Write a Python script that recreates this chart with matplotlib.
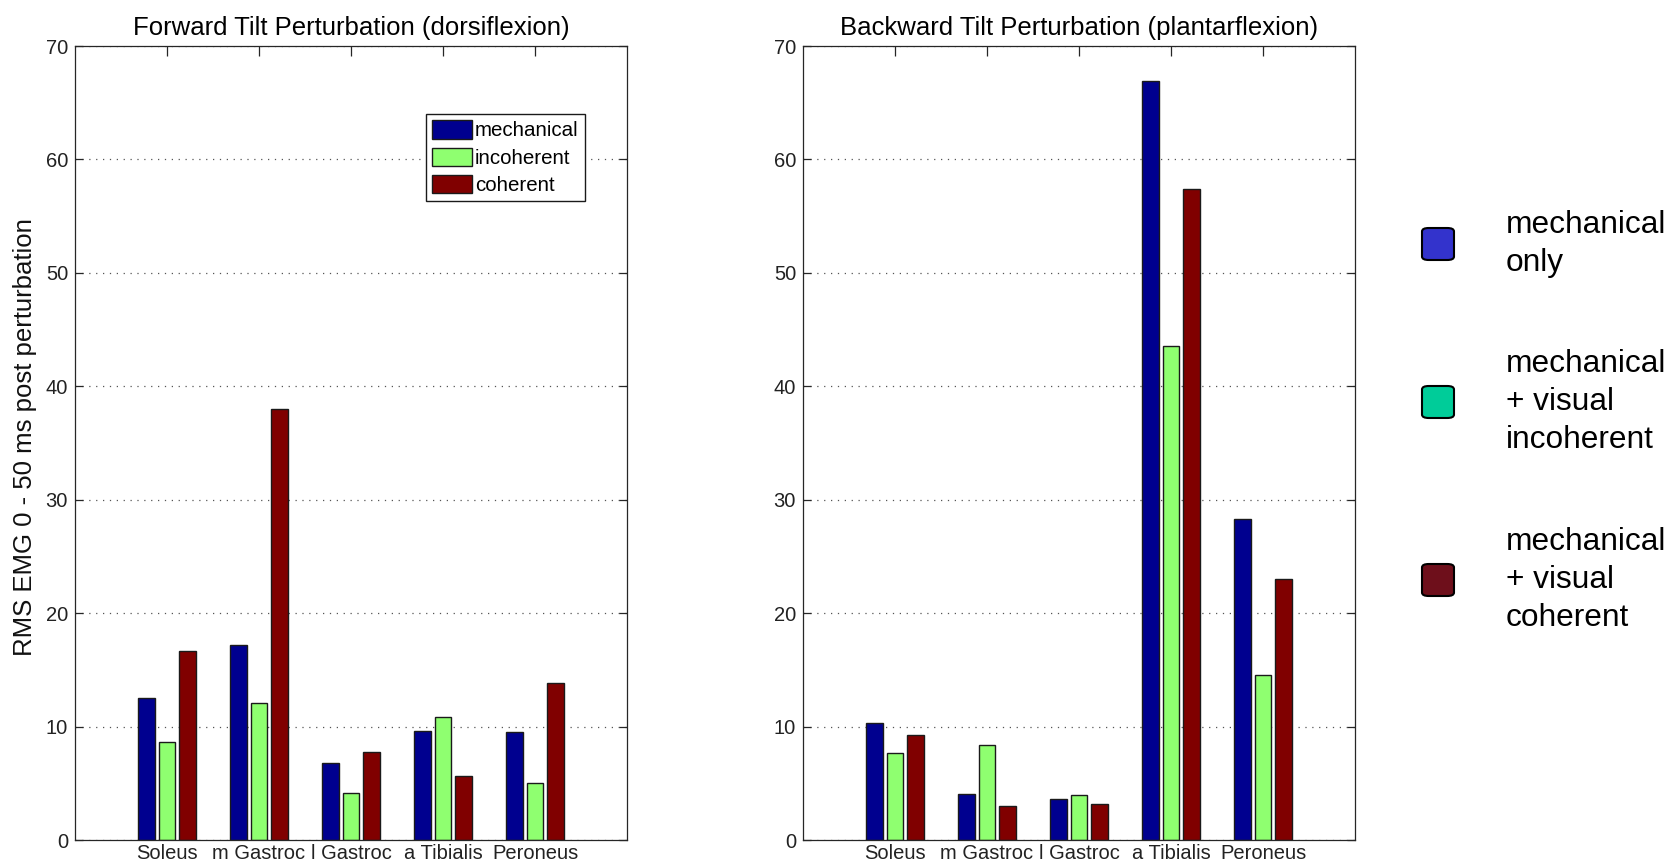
import matplotlib
matplotlib.use("Agg")
import matplotlib.pyplot as plt
import numpy as np
from matplotlib.patches import FancyBboxPatch

plt.rcParams['font.family'] = ['Liberation Sans', 'DejaVu Sans']

# ---- data -------------------------------------------------------------
muscles = ["Soleus", "m Gastroc", "l Gastroc", "a Tibialis", "Peroneus"]
conditions = ["mechanical", "incoherent", "coherent"]

forward_mechanical = [12.55, 17.19, 6.78, 9.65, 9.56]
forward_incoherent = [8.68, 12.11, 4.14, 10.88, 5.02]
forward_coherent = [16.66, 38.03, 7.80, 5.66, 13.87]

backward_mechanical = [10.31, 4.09, 3.65, 66.92, 28.26]
backward_incoherent = [7.68, 8.34, 4.00, 43.54, 14.51]
backward_coherent = [9.30, 2.99, 3.21, 57.41, 23.00]

titles = ["Forward Tilt Perturbation (dorsiflexion)",
          "Backward Tilt Perturbation (plantarflexion)"]
ylabel = "RMS EMG 0 - 50 ms post perturbation"
yticks = [0, 10, 20, 30, 40, 50, 60, 70]

side_labels = ["mechanical\nonly",
               "mechanical\n+ visual\nincoherent",
               "mechanical\n+ visual\ncoherent"]

# ---- styling ----------------------------------------------------------
bar_colors = ["#00008F", "#8FFF70", "#800000"]
side_colors = ["#3333CC", "#00CC99", "#6E0F1B"]
W, H = 1678, 866

fig = plt.figure(figsize=(W / 100, H / 100), dpi=100)


def px_axes(x0, y0, x1, y1):
    """Axes from pixel box (top-left origin)."""
    return fig.add_axes([x0 / W, 1 - y1 / H, (x1 - x0) / W, (y1 - y0) / H])


ax_f = px_axes(75, 46, 627, 840)
ax_b = px_axes(803, 46, 1355, 840)

groups = [
    (ax_f, [forward_mechanical, forward_incoherent, forward_coherent], titles[0]),
    (ax_b, [backward_mechanical, backward_incoherent, backward_coherent], titles[1]),
]

x = np.arange(1, len(muscles) + 1)
offset = 0.22
width = 0.18

for ax, series, title in groups:
    for i, (vals, col, lab) in enumerate(zip(series, bar_colors, conditions)):
        ax.bar(x + (i - 1) * offset, vals, width=width, color=col,
               edgecolor="#1a1a1a", linewidth=1.0, label=lab, zorder=2)
    ax.set_xlim(0, 6)
    ax.set_ylim(0, 70)
    ax.set_xticks(x)
    ax.set_xticklabels(muscles, fontsize=14.5)
    ax.set_yticks(yticks)
    ax.set_yticklabels([str(v) for v in yticks], fontsize=14.5)
    ax.tick_params(axis="x", direction="in", top=True, bottom=False,
                   length=7, width=0.9, color="#262626", pad=3,
                   labelcolor="#222222")
    ax.tick_params(axis="y", direction="in", left=True, right=True,
                   length=6, width=0.9, color="#262626", pad=5,
                   labelcolor="#222222")
    for sp in ax.spines.values():
        sp.set_color("#262626")
        sp.set_linewidth(0.9)
    ax.set_axisbelow(True)
    ax.yaxis.grid(True, linestyle=(0, (1, 4.5)), color="#555555", linewidth=0.9)
    ax.xaxis.grid(False)
    ax.set_title(title, fontsize=18.5, pad=8)

leg = ax_f.legend(loc="upper left", bbox_to_anchor=((426 - 75) / 552, (840 - 114) / 794),
                  fontsize=14.8, handlelength=1.95, handleheight=1.0,
                  handletextpad=0.12, labelspacing=0.35, borderpad=0.3,
                  borderaxespad=0.0, frameon=True, fancybox=False,
                  framealpha=1.0, edgecolor="#1a1a1a")
leg.get_frame().set_linewidth(1.0)

fig.text(25 / W, 1 - 437 / H, ylabel, rotation=90, ha="center", va="center",
         fontsize=18.5, color="#111111")

# ---- side key ---------------------------------------------------------
centers = [244, 402, 580]
for cy, col, lab in zip(centers, side_colors, side_labels):
    sq = FancyBboxPatch((1422 / W, 1 - (cy + 16) / H), 32 / W, 32 / H,
                        boxstyle="round,pad=0,rounding_size=0.004",
                        transform=fig.transFigure, facecolor=col,
                        edgecolor="black", linewidth=1.5)
    fig.patches.append(sq)
    fig.text(1506 / W, 1 - cy / H, lab, ha="left", va="center",
             fontsize=22.8, linespacing=1.36, color="black")

fig.savefig("out.png", dpi=100)
